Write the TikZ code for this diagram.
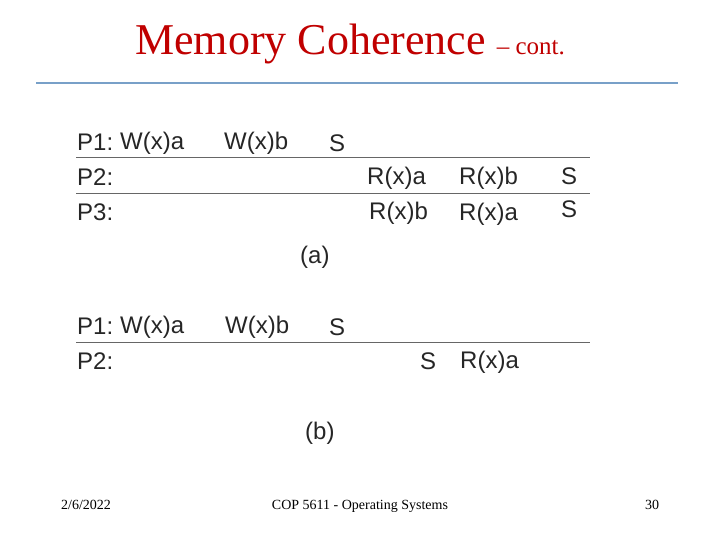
\documentclass[tikz,border=0pt]{standalone}
\usepackage{fontspec}
\setmainfont{Liberation Serif}
\newfontfamily\arialf{Liberation Sans}
\definecolor{titred}{RGB}{192,0,0}
\definecolor{rulebl}{RGB}{120,160,200}
\begin{document}
\begin{tikzpicture}[x=1pt,y=-1pt,
  t/.style={anchor=base west,inner sep=0pt,font=\arialf\fontsize{24}{26}\selectfont,text=black!85},
  rule/.style={draw=black!60,line width=1pt},
  foot/.style={anchor=base,inner sep=0pt,font=\fontsize{14}{16}\selectfont}]
\useasboundingbox (0,0) rectangle (720,540);
\node[anchor=base,inner sep=0pt,text=titred] (title) at (350,55)
  {\fontsize{44}{48}\selectfont Memory Coherence \fontsize{25}{27}\selectfont -- cont.};
\coordinate (hl) at (36,83); \coordinate (hr) at (678,83);
\draw[draw=rulebl,line width=1.5pt] (hl) -- (hr);
% (a)
\node[t] (a11) at (77,151) {P1:};
\node[t] (a12) at (120,150) {W(x)a};
\node[t] (a13) at (224,150) {W(x)b};
\node[t] (a14) at (329,152) {S};
\coordinate (la1) at (76,158); \coordinate (ra1) at (590,158);
\draw[rule] (la1) -- (ra1);
\node[t] (a21) at (77,186) {P2:};
\node[t] (a22) at (367,185) {R(x)a};
\node[t] (a23) at (459,185) {R(x)b};
\node[t] (a24) at (561,185) {S};
\coordinate (la2) at (76,194); \coordinate (ra2) at (590,194);
\draw[rule] (la2) -- (ra2);
\node[t] (a31) at (77,221) {P3:};
\node[t] (a32) at (369,220) {R(x)b};
\node[t] (a33) at (459,221) {R(x)a};
\node[t] (a34) at (561,218) {S};
\node[t] (alab) at (300,263) {(a)};
% (b)
\node[t] (b11) at (77,334) {P1:};
\node[t] (b12) at (120,333) {W(x)a};
\node[t] (b13) at (225,333) {W(x)b};
\node[t] (b14) at (329,335) {S};
\coordinate (lb1) at (76,342); \coordinate (rb1) at (590,342);
\draw[rule] (lb1) -- (rb1);
\node[t] (b21) at (77,369) {P2:};
\node[t] (b22) at (420,369) {S};
\node[t] (b23) at (460,368) {R(x)a};
\node[t] (blab) at (305,439) {(b)};
% footer
\node[foot] (f1) at (86,509) {2/6/2022};
\node[foot] (f2) at (360,509) {COP 5611 - Operating Systems};
\node[foot] (f3) at (652,509) {30};
\end{tikzpicture}
\end{document}
